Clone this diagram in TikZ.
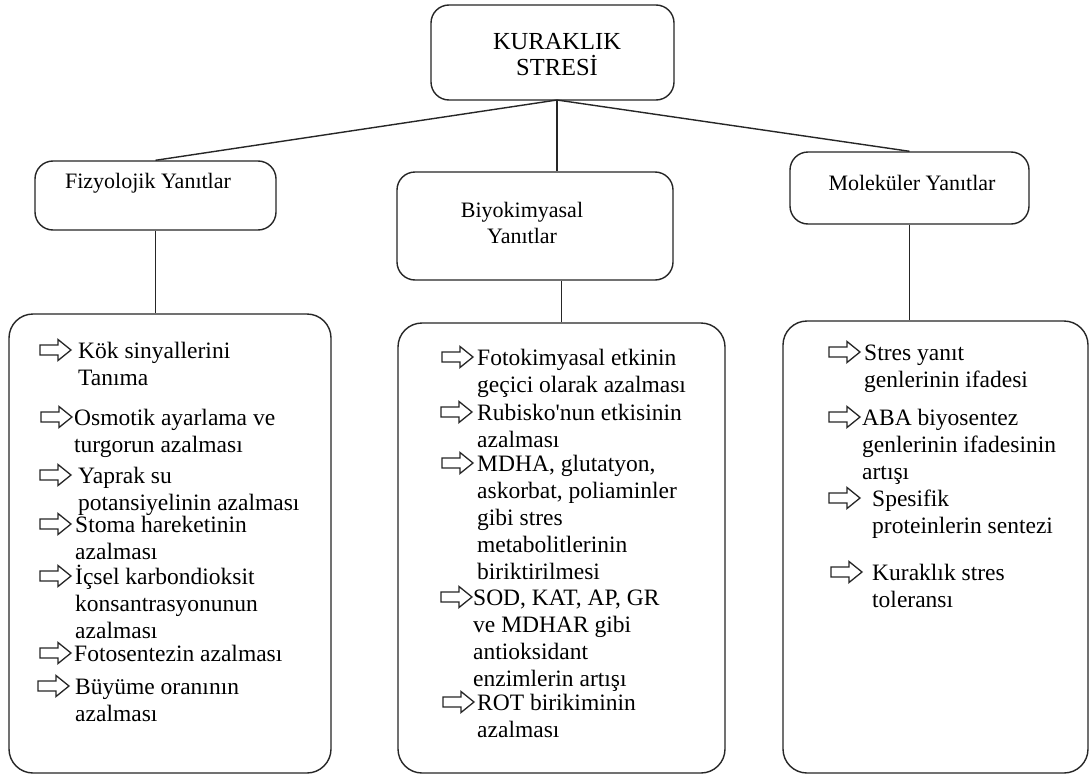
\documentclass[tikz,border=0pt]{standalone}
\usepackage{fontspec}
\setmainfont{Liberation Serif}
\tikzset{
  frame/.style={draw=black!85, line width=1.4pt, rounded corners=18pt, inner sep=0pt},
  link/.style={draw=black!85, line width=1.4pt},
  title/.style={inner sep=0pt, align=center, font=\fontsize{24.5}{26}\selectfont},
  head/.style={inner sep=0pt, align=center, font=\fontsize{22}{26}\selectfont},
  txt/.style={anchor=base west, inner sep=0pt, font=\fontsize{23.5}{27}\selectfont},
  arrowshape/.style={draw=black!85, line width=1.3pt, line join=miter},
}
% one bullet: outlined block arrow followed by its (possibly multi-line) text
\newcommand\respitem[5]{%
  \coordinate (#1) at (#2,#3);
  \draw[arrowshape] (#1) ++(0,-5) -- ++(18,0) -- ++(0,-5.5) -- ++(13,10.5)
    -- ++(-13,10.5) -- ++(0,-5.5) -- ++(-18,0) -- cycle;
  \node[txt] (#1t) at (#4,#3+8) {\begin{tabular}[t]{@{}l@{}}#5\end{tabular}};
}
\begin{document}
\begin{tikzpicture}[x=1pt, y=-1pt]
  \useasboundingbox[fill=white] (0,0) rectangle (1091,776);

  % top box and the three response headers
  \node[frame, minimum width=243, minimum height=95] (top) at (552.5,52.5) {};
  \node[title] (toplbl) at (557,55) {KURAKLIK\\STRESİ};

  \node[frame, minimum width=241, minimum height=69] (fiz) at (155.5,195.5) {};
  \node[head] (fizlbl) at (148,183) {Fizyolojik Yanıtlar};

  \node[frame, minimum width=276, minimum height=108] (bio) at (535,226) {};
  \node[head] (biolbl) at (522,223) {Biyokimyasal\\Yanıtlar};

  \node[frame, minimum width=239, minimum height=72] (mol) at (909.5,188) {};
  \node[head] (mollbl) at (912,183) {Moleküler Yanıtlar};

  % detail panels
  \node[frame, rounded corners=24pt, minimum width=322, minimum height=459] (pfiz) at (170,543.5) {};
  \node[frame, rounded corners=24pt, minimum width=327, minimum height=450] (pbio) at (561.5,548) {};
  \node[frame, rounded corners=24pt, minimum width=305, minimum height=452] (pmol) at (935.5,547) {};

  % connectors
  \coordinate (hub) at (557,100);
  \draw[link] (hub) -- (fiz.north);
  \draw[link] (hub) -- (mol.north);
  \draw[link] (hub) -- (hub |- bio.north);
  \draw[link] (fiz.south) -- (fiz.south |- pfiz.north);
  \draw[link] (pbio.north) -- (pbio.north |- bio.south);
  \draw[link] (mol.south) -- (mol.south |- pmol.north);

  % physiological responses
  \respitem{f1}{40}{350}{78}{Kök sinyallerini\\Tanıma}
  \respitem{f2}{41}{417}{74}{Osmotik ayarlama ve\\turgorun azalması}
  \respitem{f3}{40}{475}{78}{Yaprak su\\potansiyelinin azalması}
  \respitem{f4}{40}{524}{75}{Stoma hareketinin\\azalması}
  \respitem{f5}{40}{576}{75}{İçsel karbondioksit\\konsantrasyonunun\\azalması}
  \respitem{f6}{40}{653}{74}{Fotosentezin azalması}
  \respitem{f7}{38}{686}{75}{Büyüme oranının\\azalması}

  % biochemical responses
  \respitem{b1}{442}{357}{477}{Fotokimyasal etkinin\\geçici olarak azalması}
  \respitem{b2}{441}{412}{477}{Rubisko\textquotesingle nun etkisinin\\azalması}
  \respitem{b3}{442}{463}{477}{MDHA, glutatyon,\\askorbat, poliaminler\\gibi stres\\metabolitlerinin\\biriktirilmesi}
  \respitem{b4}{441}{597}{473}{SOD, KAT, AP, GR\\ve MDHAR gibi\\antioksidant\\enzimlerin artışı}
  \respitem{b5}{443}{702}{477}{ROT birikiminin\\azalması}

  % molecular responses
  \respitem{m1}{829}{352}{864}{Stres yanıt\\genlerinin ifadesi}
  \respitem{m2}{829}{417}{862}{ABA biyosentez\\genlerinin ifadesinin\\artışı}
  \respitem{m3}{829}{498}{872}{Spesifik\\proteinlerin sentezi}
  \respitem{m4}{831}{572}{872}{Kuraklık stres\\toleransı}
\end{tikzpicture}
\end{document}
